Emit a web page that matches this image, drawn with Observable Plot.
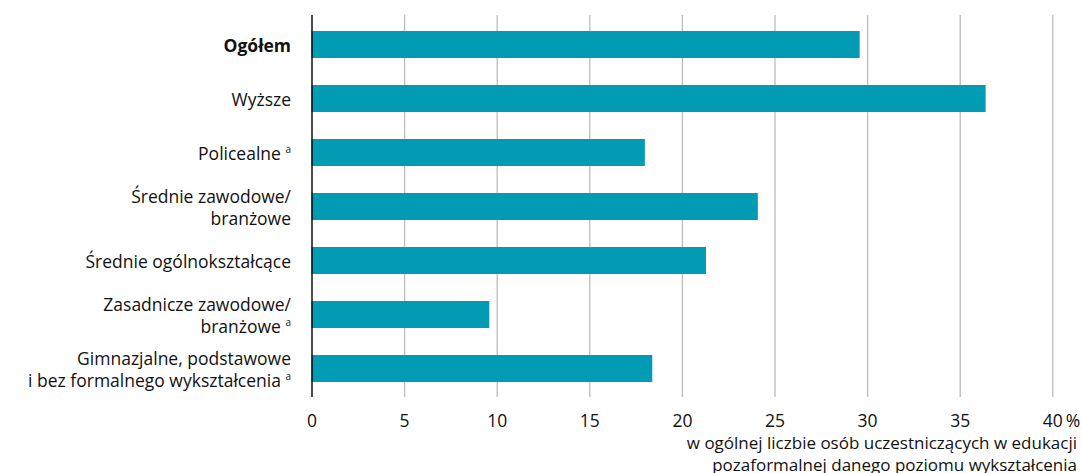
<!DOCTYPE html>
<html>
<head>
<meta charset="utf-8">
<script src="https://cdn.jsdelivr.net/npm/d3@7"></script>
<script src="https://cdn.jsdelivr.net/npm/@observablehq/plot@0.6"></script>
<style>
  html, body { margin: 0; padding: 0; background: #fff; }
  body { width: 1082px; height: 473px; overflow: hidden; font-family: "Open Sans", sans-serif; }
  #caption { width: 1082px; box-sizing: border-box; padding-right: 5px; text-align: right;
    font-size: 17px; line-height: 22px; color: #111; margin: 0; }
</style>
</head>
<body>
<div id="chart"></div>
<div id="caption">w ogólnej liczbie osób uczestniczących w edukacji<br>pozaformalnej danego poziomu wykształcenia</div>
<script>
const categories = ["Ogółem", "Wyższe", "Policealne", "Średnie zawodowe/branżowe", "Średnie ogólnokształcące", "Zasadnicze zawodowe/branżowe", "Gimnazjalne, podstawowe i bez formalnego wykształcenia"];
const labels = ["Ogółem", "Wyższe", "Policealne ^a", "Średnie zawodowe/\nbranżowe", "Średnie ogólnokształcące", "Zasadnicze zawodowe/\nbranżowe ^a", "Gimnazjalne, podstawowe\ni bez formalnego wykształcenia ^a"];
const values = [29.6, 36.4, 18.0, 24.1, 21.3, 9.6, 18.4];
const xTicks = [0, 5, 10, 15, 20, 25, 30, 35, 40];
const gridTicks = [5, 10, 15, 20, 25, 30, 35, 40];

const data = categories.map((c, i) => ({category: c, value: values[i]}));
const labelOf = new Map(categories.map((c, i) => [c, labels[i]]));

const chart = Plot.plot({
  width: 1082,
  height: 432,
  marginLeft: 311.5,
  marginRight: 29.7,
  marginTop: 15,
  marginBottom: 35,
  style: {fontFamily: "Open Sans, sans-serif", fontSize: "17px", color: "#111", background: "#fff"},
  x: {domain: [0, 40], ticks: xTicks},
  y: {domain: categories, paddingInner: 0.5, paddingOuter: 0.25},
  marks: [
    Plot.ruleX(gridTicks, {stroke: "#bcbcbc", strokeWidth: 1.3}),
    Plot.barX(data, {y: "category", x: "value", fill: "#019bb3"}),
    Plot.ruleX([0], {stroke: "#000", strokeWidth: 1.4}),
    Plot.axisX({ticks: xTicks, tickSize: 0, tickPadding: 17, fontSize: 17.5, label: null}),
    Plot.text(["%"], {x: () => 40, frameAnchor: "bottom", textAnchor: "start", dx: 13, dy: 29, fontSize: 17.5, fill: "#111"}),
    Plot.axisY({tickSize: 0, tickPadding: 21, fontSize: 17.5, lineHeight: 1.25, label: null, tickFormat: d => labelOf.get(d)})
  ]
});
document.getElementById("chart").appendChild(chart);

// Post-process: bold "Ogółem", superscript markers
d3.select(chart).selectAll("text").each(function() {
  const t = d3.select(this);
  const nodes = this.querySelectorAll("tspan").length ? Array.from(this.querySelectorAll("tspan")) : [this];
  nodes.forEach(n => {
    const s = n.textContent;
    if (s === "Ogółem") t.attr("font-weight", "bold");
    if (s.endsWith(" ^a")) {
      n.textContent = s.slice(0, -3) + " ";
      const sup = document.createElementNS("http://www.w3.org/2000/svg", "tspan");
      sup.setAttribute("font-size", "10");
      sup.setAttribute("dy", "-7");
      sup.textContent = "a";
      n.appendChild(sup);
    }
  });
});
</script>
</body>
</html>
